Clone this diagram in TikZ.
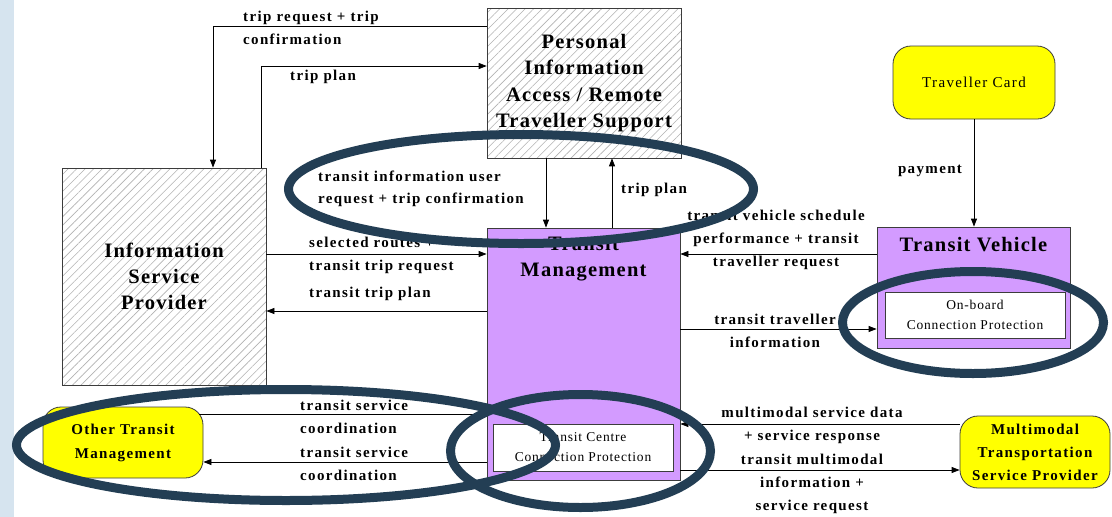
\documentclass[tikz,border=0pt]{standalone}
\usepackage{fontspec}
\setmainfont{Liberation Serif}
\newfontfamily\lblfam{Liberation Serif}[LetterSpace=9]
\newfontfamily\ttlfam{Liberation Serif}[LetterSpace=6]
\newfontfamily\smlfam{Liberation Serif}[LetterSpace=6]
\newcommand\lblf{\lblfam\bfseries\fontsize{15}{23}\selectfont}
\newcommand\ttlf{\ttlfam\bfseries\fontsize{20.5}{26.3}\selectfont}
\newcommand\smlf{\smlfam\fontsize{13.5}{20}\selectfont}
\newcommand\ylwf{\lblfam\fontsize{15}{24}\selectfont}
\usetikzlibrary{arrows.meta,patterns.meta,calc}
\definecolor{purp}{RGB}{211,155,255}
\definecolor{ylw}{RGB}{255,255,0}
\definecolor{ring}{RGB}{35,62,84}
\definecolor{strip}{RGB}{214,228,239}
\definecolor{edge}{RGB}{60,60,60}
\tikzset{
  flow/.style={draw=black, line width=0.8pt, -{Triangle[length=8pt,width=6pt]}},
  lbl/.style={font=\lblf, inner sep=0pt},
  hatchbox/.style={draw=edge, line width=0.8pt, inner sep=0pt,
    preaction={fill=white},
    pattern={Lines[angle=45,distance=6pt,line width=0.6pt]}, pattern color=black!30,
    font=\ttlf, align=center},
  purpbox/.style={draw=edge, line width=0.8pt, fill=purp, inner sep=0pt},
  inbox/.style={draw=edge, line width=0.8pt, fill=white, inner sep=0pt, font=\smlf, align=center},
  ybox/.style={draw=edge, line width=0.8pt, fill=ylw, rounded corners=18pt, inner sep=0pt, align=center},
  ringline/.style={draw=ring, line width=9pt},
  ttl/.style={font=\ttlf, align=center, inner sep=0pt}
}
\begin{document}
\begin{tikzpicture}[x=1pt,y=-1pt]
\useasboundingbox (0,0) rectangle (1112,517);
\fill[white] (0,0) rectangle (1112,517);
\fill[strip] (0,0) rectangle (14,517);

% boxes
\node[hatchbox, minimum width=194pt, minimum height=150pt] (pia) at (584,83)
  {Personal\\Information\\Access / Remote\\Traveller Support};
\node[hatchbox, minimum width=204pt, minimum height=217pt] (isp) at (164,276.5)
  {Information\\Service\\Provider};
\node[purpbox, minimum width=193pt, minimum height=252pt] (tm) at (583.5,354) {};
\node[ttl] (tmt) at (583.5,258.5) {Transit\\Management};
\node[inbox, minimum width=180pt, minimum height=47pt] (tccp) at (583,447.5)
  {Transit Centre\\Connection Protection};
\node[purpbox, minimum width=193pt, minimum height=121pt] (tv) at (973.5,287.5) {};
\node[ttl] (tvt) at (973.5,245) {Transit Vehicle};
\node[inbox, minimum width=180pt, minimum height=46pt] (obcp) at (975,315)
  {On-board\\Connection Protection};
\node[ybox, minimum width=162pt, minimum height=73pt, font=\ylwf] (tc) at (974,82.5) {Traveller Card};
\node[ybox, minimum width=150pt, minimum height=72pt, font=\lblf] (mtsp) at (1035,452)
  {Multimodal\\Transportation\\Service Provider};
\node[ybox, minimum width=160pt, minimum height=71pt, font=\lblfam\bfseries\fontsize{15}{24}\selectfont] (otm) at (123,442.5)
  {Other Transit\\Management};

% connectors
\draw[flow] (pia.west |- 0,26) -| (isp.north -| 213,0);
\draw[flow] (isp.north -| 261,0) |- (pia.west |- 0,66);
\draw[flow] (pia.south -| 546,0) -- (tm.north -| 546,0);
\draw[flow] (tm.north -| 612,0) -- (pia.south -| 612,0);
\draw[flow] (isp.east |- 0,254) -- (tm.west |- 0,254);
\draw[flow] (tm.west |- 0,311) -- (isp.east |- 0,311);
\draw[flow] (tv.west |- 0,254) -- (tm.east |- 0,254);
\draw[flow] (tm.east |- 0,329) -- (tv.west |- 0,329);
\draw[flow] (tc.south) -- (tc.south |- tv.north);
\draw[flow] ([xshift=-4pt]otm.east |- 0,414) -- (tm.west |- 0,414);
\draw[flow] (tm.west |- 0,462) -- (otm.east |- 0,462);
\draw[flow] (mtsp.west |- 0,424) -- (tm.east |- 0,424);
\draw[flow] (tm.east |- 0,470) -- (mtsp.west |- 0,470);

% labels
\node[lbl, anchor=west, align=left] (l1) at (243,28) {trip request + trip\\confirmation};
\node[lbl, anchor=west] (l2) at (290,77) {trip plan};
\node[lbl, anchor=west, align=left, font=\lblfam\bfseries\fontsize{15}{22}\selectfont] (l3) at (318,189) {transit information user\\request + trip confirmation};
\node[lbl, anchor=west] (l4) at (621,190) {trip plan};
\node[lbl, anchor=west, align=left] (l5) at (309,255) {selected routes +\\transit trip request};
\node[lbl, anchor=west] (l6) at (309,294) {transit trip plan};
\node[lbl, align=center] (l7) at (776,240) {transit vehicle schedule\\performance + transit\\traveller request};
\node[lbl, align=center] (l8) at (775,330.5) {transit traveller\\information};
\node[lbl] (l9) at (930,171) {payment};
\node[lbl, anchor=west, align=left] (l10) at (300,416.5) {transit service\\coordination};
\node[lbl, anchor=west, align=left] (l11) at (300,463.5) {transit service\\coordination};
\node[lbl, align=center] (l12) at (812,425) {multimodal service data\\+ service response};
\node[lbl, align=center] (l13) at (812,484) {transit multimodal\\information +\\service request};

% highlight rings
\draw[ringline] (521,189) ellipse [x radius=232.5, y radius=54.5];
\draw[ringline] (973,322.5) ellipse [x radius=130.5, y radius=51];
\draw[ringline] (286,445) ellipse [x radius=269.5, y radius=55.5];
\draw[ringline] (580.5,451) ellipse [x radius=130, y radius=56.5];
\end{tikzpicture}
\end{document}
